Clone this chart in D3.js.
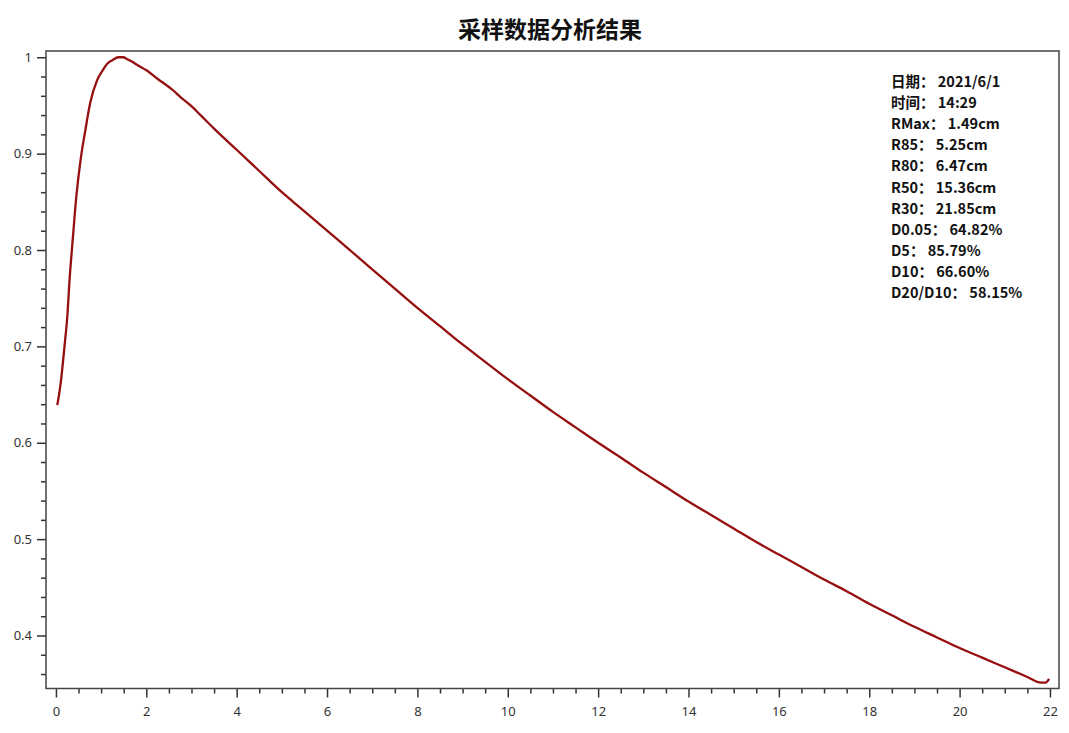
<!DOCTYPE html>
<html>
<head>
<meta charset="utf-8">
<script src="https://cdn.jsdelivr.net/npm/d3@7"></script>
<style>
  body { margin: 0; background: #fff; }
  text { font-family: "Segoe UI", "Noto Sans", "Noto Sans CJK SC", sans-serif; }
</style>
</head>
<body>
<div id="chart"></div>
<script>
// chart values
const depth = [0.03, 0.10, 0.20, 0.25, 0.30, 0.37, 0.45, 0.55, 0.65, 0.76, 0.91, 1.03, 1.13, 1.25, 1.38, 1.49,
  1.58, 1.70, 1.80, 2.02, 2.24, 2.61, 2.75, 2.98, 3.2, 3.5, 4.0, 4.5, 5.0, 5.25, 5.5, 6.0, 6.48,
  7.0, 7.5, 8.0, 8.5, 9.0, 9.5, 10.0, 10.5, 11.0, 11.5, 12.0, 12.49, 13.0, 13.5, 14.0, 14.5,
  15.0, 15.5, 16.0, 16.5, 17.0, 17.5, 18.0, 18.5, 19.0, 19.5, 20.0, 20.5, 21.0, 21.5, 21.8, 21.9, 21.98];
const dose = [0.639, 0.660, 0.705, 0.730, 0.768, 0.810, 0.855, 0.895, 0.924, 0.953, 0.976, 0.986, 0.993, 0.997, 1.000, 1.000,
  0.998, 0.995, 0.992, 0.986, 0.978, 0.965, 0.959, 0.950, 0.940, 0.926, 0.904, 0.882, 0.860, 0.850, 0.840, 0.820, 0.801,
  0.780, 0.760, 0.740, 0.721, 0.702, 0.684, 0.666, 0.649, 0.632, 0.616, 0.600, 0.585, 0.569, 0.554, 0.539, 0.525,
  0.511, 0.497, 0.484, 0.471, 0.458, 0.446, 0.433, 0.421, 0.409, 0.398, 0.387, 0.377, 0.367, 0.357, 0.351, 0.351, 0.355];

const xTicks = [0, 2, 4, 6, 8, 10, 12, 14, 16, 18, 20, 22];
const yTicks = [0.4, 0.5, 0.6, 0.7, 0.8, 0.9, 1];
const title = "采样数据分析结果";
const infoLines = ["日期： 2021/6/1", "时间： 14:29", "RMax： 1.49cm", "R85： 5.25cm", "R80： 6.47cm",
  "R50： 15.36cm", "R30： 21.85cm", "D0.05： 64.82%", "D5： 85.79%", "D10： 66.60%", "D20/D10： 58.15%"];

const width = 1069, height = 733;
const box = {left: 46, right: 1059, top: 51, bottom: 688.5};

let svg = d3.select("#chart").append("svg")
    .attr("width", width)
    .attr("height", height);

let x = d3.scaleLinear().domain([-0.22, 22.2]).range([box.left, box.right]);
let y = d3.scaleLinear().domain([0.345, 1.0065]).range([box.bottom, box.top]);

// minor ticks
let xMinor = d3.range(0, 22.01, 0.5).filter(v => !xTicks.includes(v));
let yMinor = d3.range(0.36, 1.001, 0.02).map(v => +v.toFixed(2)).filter(v => !yTicks.some(t => Math.abs(t - v) < 1e-6));

svg.append("g")
    .attr("transform", `translate(0, ${box.bottom})`)
    .call(d3.axisBottom(x).tickValues(xMinor).tickSize(5).tickFormat(""))
    .call(g => g.select(".domain").remove())
    .selectAll("line").attr("stroke", "#333").attr("stroke-width", 1.5);

svg.append("g")
    .attr("transform", `translate(${box.left}, 0)`)
    .call(d3.axisLeft(y).tickValues(yMinor).tickSize(5).tickFormat(""))
    .call(g => g.select(".domain").remove())
    .selectAll("line").attr("stroke", "#333").attr("stroke-width", 1.5);

// major axes
let xAxis = svg.append("g")
    .attr("transform", `translate(0, ${box.bottom})`)
    .call(d3.axisBottom(x).tickValues(xTicks).tickSize(9).tickPadding(9).tickFormat(d3.format("d")));
xAxis.select(".domain").remove();
xAxis.selectAll("line").attr("stroke", "#333").attr("stroke-width", 1.5);
xAxis.selectAll("text").attr("fill", "#333").style("font-size", "13px");

let yAxis = svg.append("g")
    .attr("transform", `translate(${box.left}, 0)`)
    .call(d3.axisLeft(y).tickValues(yTicks).tickSize(9).tickPadding(5).tickFormat(d3.format("~g")));
yAxis.select(".domain").remove();
yAxis.selectAll("line").attr("stroke", "#333").attr("stroke-width", 1.5);
yAxis.selectAll("text").attr("fill", "#333").style("font-size", "13px");

// frame
svg.append("rect")
    .attr("x", box.left)
    .attr("y", box.top)
    .attr("width", box.right - box.left)
    .attr("height", box.bottom - box.top)
    .attr("fill", "none")
    .attr("stroke", "#444")
    .attr("stroke-width", 1.5);

// curve
let pts = depth.map((d, i) => [d, dose[i]]);
svg.append("path")
    .datum(pts)
    .attr("fill", "none")
    .attr("stroke", "#960f0f")
    .attr("stroke-width", 2.3)
    .attr("stroke-linejoin", "round")
    .attr("d", d3.line().x(d => x(d[0])).y(d => y(d[1])).curve(d3.curveMonotoneX));

// title
svg.append("text")
    .attr("x", 550)
    .attr("y", 38)
    .attr("text-anchor", "middle")
    .style("font-family", "'Noto Sans CJK SC', sans-serif")
    .style("font-weight", "bold")
    .style("font-size", "23px")
    .attr("fill", "#111")
    .text(title);

// info text
svg.append("g").selectAll("text")
    .data(infoLines)
    .enter()
    .append("text")
    .attr("x", 891)
    .attr("y", (d, i) => 87 + i * 21.1)
    .style("font-family", "'Noto Sans CJK SC', sans-serif")
    .style("font-weight", "bold")
    .style("font-size", "14.5px")
    .attr("fill", "#111")
    .text(d => d);
</script>
</body>
</html>
